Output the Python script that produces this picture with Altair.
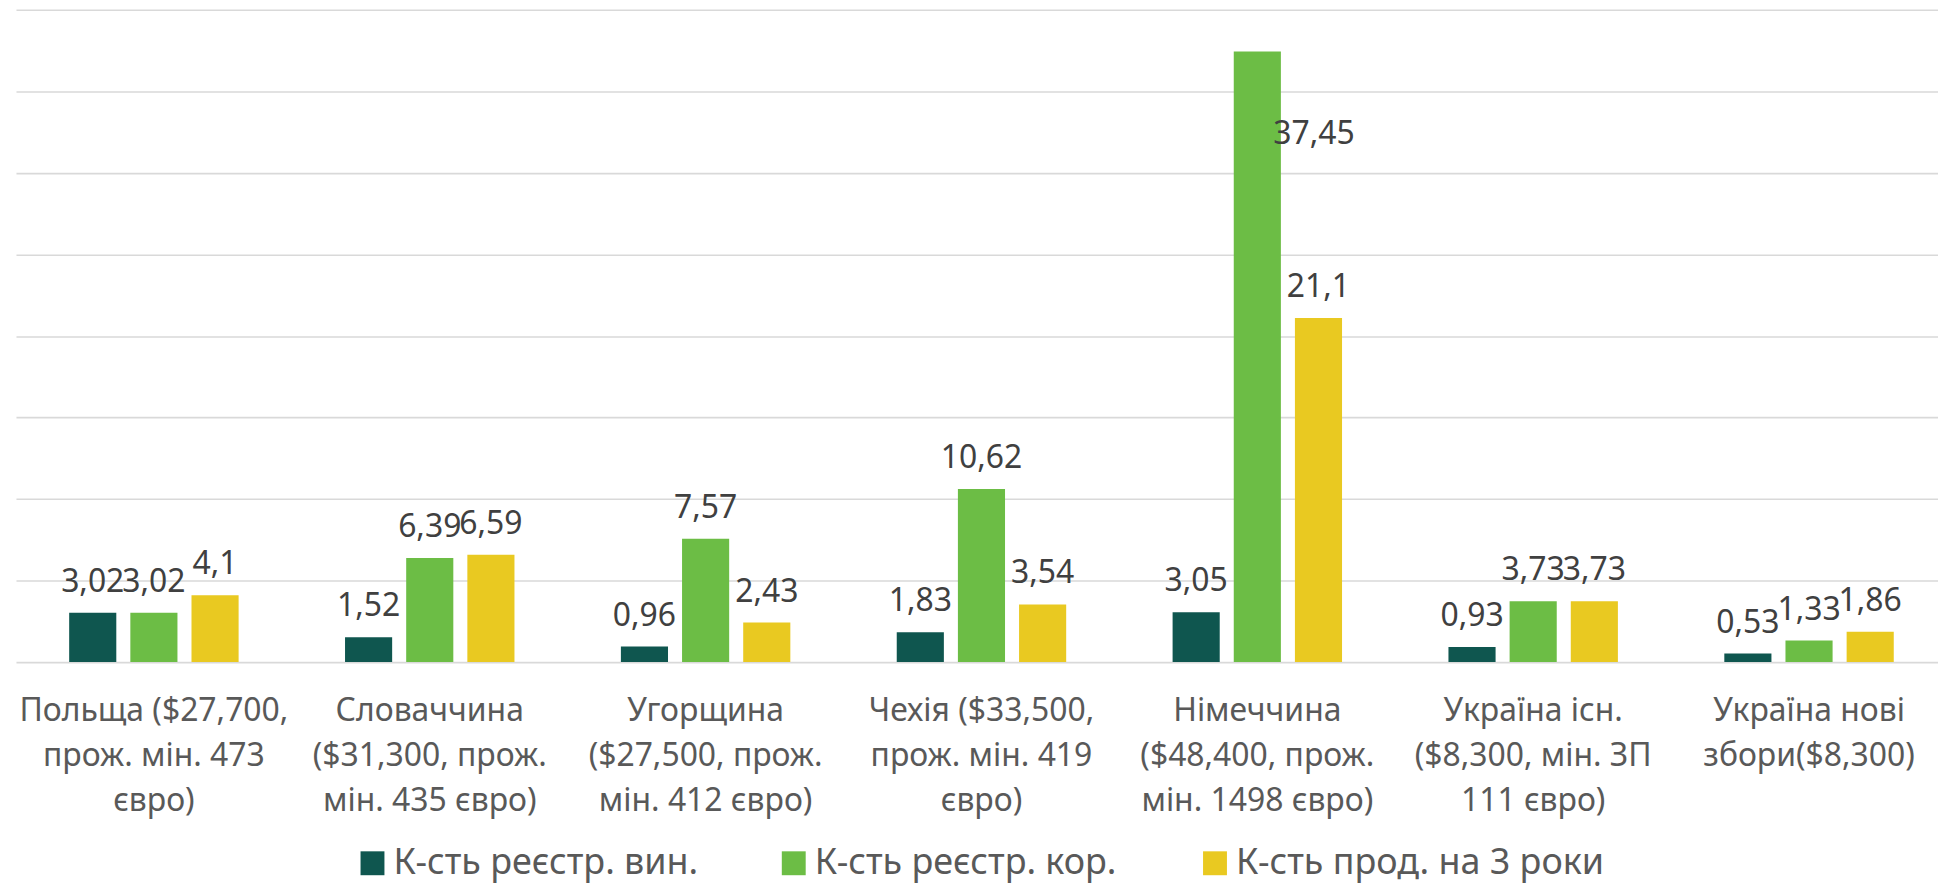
import altair as alt
import pandas as pd

categories = [
    "Польща ($27,700,|прож. мін. 473|євро)",
    "Словаччина|($31,300, прож.|мін. 435 євро)",
    "Угорщина|($27,500, прож.|мін. 412 євро)",
    "Чехія ($33,500,|прож. мін. 419|євро)",
    "Німеччина|($48,400,  прож.|мін. 1498 євро)",
    "Україна існ.|($8,300, мін. ЗП|111 євро)",
    "Україна нові|збори($8,300)",
]
series = ["К-сть реєстр. вин.", "К-сть реєстр. кор.", "К-сть прод. на 3 роки"]
reg_vyn = [3.02, 1.52, 0.96, 1.83, 3.05, 0.93, 0.53]
reg_kor = [3.02, 6.39, 7.57, 10.62, 37.45, 3.73, 1.33]
prod_3 = [4.1, 6.59, 2.43, 3.54, 21.1, 3.73, 1.86]
colors = ["#0f564f", "#6cbd45", "#e9c921"]
grid_values = [0, 5, 10, 15, 20, 25, 30, 35, 40]
y_max = 40

rows = []
for name, vals in zip(series, [reg_vyn, reg_kor, prod_3]):
    for c, v in zip(categories, vals):
        rows.append({"category": c, "series": name, "value": v})
df = pd.DataFrame(rows)

FONT = "Noto Sans"

x_enc = alt.X(
    "category:N",
    sort=categories,
    title=None,
    scale=alt.Scale(paddingInner=0, paddingOuter=0, range=[0, 1939]),
    axis=alt.Axis(
        labelExpr="split(datum.label, '|')",
        labelAngle=0,
        labelFont=FONT,
        labelFontSize=32,
        labelColor="#595959",
        labelLineHeight=45,
        labelBaseline="top",
        labelPadding=34,
        labelOverlap=False,
        labelBound=False,
        ticks=False,
        tickSize=0,
        domain=False,
        grid=False,
        labelLimit=0,
    ),
)
xoff_enc = alt.XOffset(
    "series:N",
    sort=series,
    scale=alt.Scale(paddingInner=0.2295, paddingOuter=0.87),
)
y_enc = alt.Y(
    "value:Q",
    title=None,
    scale=alt.Scale(domain=[0, y_max], nice=False, zero=True),
    axis=alt.Axis(
        values=grid_values,
        labels=False,
        ticks=False,
        domain=False,
        grid=True,
        gridColor="#d9d9d9",
        gridWidth=1.6,
    ),
)

bars = alt.Chart(df).mark_bar().encode(
    x=x_enc,
    xOffset=xoff_enc,
    y=y_enc,
    color=alt.Color(
        "series:N",
        sort=series,
        scale=alt.Scale(domain=series, range=colors),
        legend=alt.Legend(
            title=None,
            orient="none",
            legendX=340,
            legendY=839,
            direction="horizontal",
            columns=3,
            gridAlign="all",
            symbolType="square",
            symbolSize=576,
            symbolStrokeWidth=0,
            symbolOpacity=1,
            labelFont=FONT,
            labelFontSize=36,
            labelColor="#595959",
            labelOffset=3,
            labelLimit=1000,
            columnPadding=14,
            padding=0,
        ),
    ),
)

label_base = alt.Chart(df).transform_calculate(
    label="replace(toString(datum.value), '.', ',')"
)
label_enc = dict(
    x=alt.X("category:N", sort=categories),
    xOffset=alt.XOffset("series:N", sort=series),
    y=alt.Y("value:Q"),
    text="label:N",
)
text_style = dict(baseline="middle", align="center", font=FONT, fontSize=32, color="#404040")

# labels that fit above their bar
labels_out = label_base.transform_filter(f"datum.value < {y_max} * 0.9").mark_text(
    dy=-31, **text_style
).encode(**label_enc)
# labels of bars reaching the top: placed beside the bar's upper part
labels_in = label_base.transform_filter(f"datum.value >= {y_max} * 0.9").mark_text(
    dy=83, dx=57, **text_style
).encode(**label_enc)

chart = (
    alt.layer(bars, labels_out, labels_in)
    .properties(
        width=1930,
        height=655,
        padding={"left": 8, "top": 0, "right": 0, "bottom": 221},
        autosize=alt.AutoSizeParams(type="none"),
        background="white",
    )
    .configure_view(stroke=None)
)

chart.save("out.html", embed_options={"renderer": "svg", "actions": False})
